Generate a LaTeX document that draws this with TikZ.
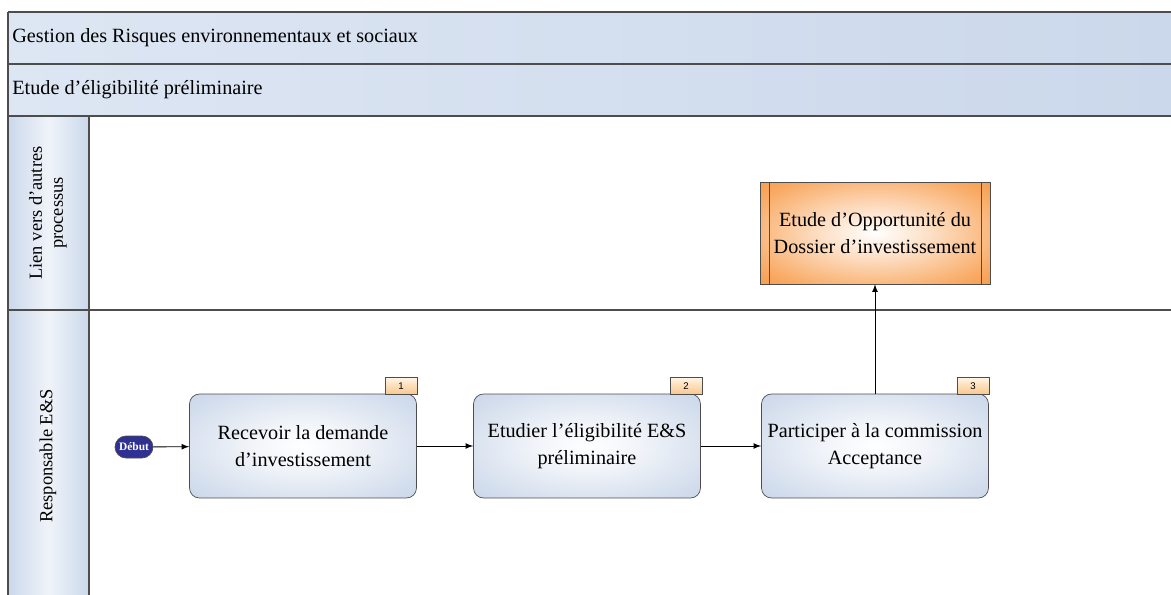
\documentclass[tikz,border=0pt]{standalone}
\usepackage{fontspec}
\setmainfont{Liberation Serif}
\newfontfamily\tagfont{Liberation Sans}
\definecolor{bandlight}{HTML}{DDE6F3}
\definecolor{banddark}{HTML}{CBD8EB}
\definecolor{boxedge}{HTML}{C3D1E6}
\definecolor{framegray}{HTML}{4D4D4D}
\definecolor{startblue}{HTML}{2E3192}
\definecolor{subproc}{HTML}{F7943C}
\definecolor{taglight}{HTML}{FFF4E4}
\definecolor{tagdark}{HTML}{F9C68C}
\pgfdeclareradialshading{taskglow}{\pgfpoint{0bp}{0bp}}{color(0bp)=(white); color(12bp)=(white!75!boxedge); color(30bp)=(white!25!boxedge); color(42bp)=(boxedge); color(50bp)=(boxedge)}
\pgfdeclareradialshading{orangeglow}{\pgfpoint{0bp}{0bp}}{color(0bp)=(white); color(12bp)=(white!70!subproc); color(30bp)=(white!20!subproc); color(40bp)=(subproc); color(50bp)=(subproc)}
\begin{document}
\begin{tikzpicture}[x=0.02cm, y=-0.02cm,
  band/.style={left color=bandlight, right color=banddark},
  lanelbl/.style={left color=banddark, right color=banddark, middle color=white!55!bandlight},
  task/.style={draw=framegray, rounded corners=0.2cm, shading=taskglow,
    minimum width=4.54cm, minimum height=2.08cm, align=center, font=\fontsize{11.5}{15}\selectfont},
  subprocess/.style={draw=framegray, shading=orangeglow,
    minimum width=4.6cm, minimum height=2.04cm, align=center, font=\fontsize{11.5}{15}\selectfont},
  tagbox/.style={draw=framegray, top color=taglight, bottom color=tagdark, minimum width=0.64cm,
    minimum height=0.34cm, inner sep=0pt, font=\tagfont\fontsize{5.5}{6}\selectfont},
  startnode/.style={draw=framegray, fill=startblue, text=white, rounded corners=0.22cm,
    minimum width=0.76cm, minimum height=0.44cm, inner sep=0pt, font=\bfseries\fontsize{6.5}{7}\selectfont},
  flow/.style={-latex, black, line width=0.5pt}]
\useasboundingbox (0,0) rectangle (1171,595);
\shade[band] (8,12) rectangle (1171,64);
\shade[band] (8,64) rectangle (1171,116);
\shade[lanelbl] (8,116) rectangle (89,310);
\shade[lanelbl] (8,310) rectangle (89,595);
\draw[framegray, line width=1pt] (8,12) -- (1171,12);
\draw[framegray, line width=1pt] (8,64) -- (1171,64);
\draw[framegray, line width=1pt] (8,116) -- (1171,116);
\draw[framegray, line width=0.6pt] (8,310) -- (1171,310);
\draw[framegray, line width=0.8pt] (8,12) -- (8,595);
\draw[framegray, line width=0.6pt] (89,116) -- (89,595);
\node[anchor=west, inner sep=0pt, font=\fontsize{11.5}{14}\selectfont] (title) at (12,38) {Gestion des Risques environnementaux et sociaux};
\node[anchor=west, inner sep=0pt, font=\fontsize{11.5}{14}\selectfont] (phase) at (12,90) {Etude d’éligibilité préliminaire};
\node[rotate=90, align=center, font=\fontsize{10.5}{12}\selectfont] (lane1) at (48,213) {Lien vers d’autres\\processus};
\node[rotate=90, align=center, font=\fontsize{10.5}{12}\selectfont] (lane2) at (48,456) {Responsable E\&S};
\node[startnode] (start) at (134,447) {Début};
\node[task] (t1) at (303,446) {Recevoir la demande\\d’investissement};
\node[task] (t2) at (587,446) {Etudier l’éligibilité E\&S\\préliminaire};
\node[task] (t3) at (875,446) {Participer à la commission\\Acceptance};
\node[tagbox] (n1) at (401,386) {1};
\node[tagbox] (n2) at (686,386) {2};
\node[tagbox] (n3) at (973,386) {3};
\node[subprocess] (oppo) at (875,233) {Etude d’Opportunité du\\Dossier d’investissement};
\draw[framegray] ([xshift=0.2cm]oppo.north west) -- ([xshift=0.2cm]oppo.south west);
\draw[framegray] ([xshift=-0.18cm]oppo.north east) -- ([xshift=-0.18cm]oppo.south east);
\draw[flow] (start) -- (t1);
\draw[flow] (t1) -- (t2);
\draw[flow] (t2) -- (t3);
\draw[flow] (t3) -- (oppo);
\end{tikzpicture}
\end{document}
